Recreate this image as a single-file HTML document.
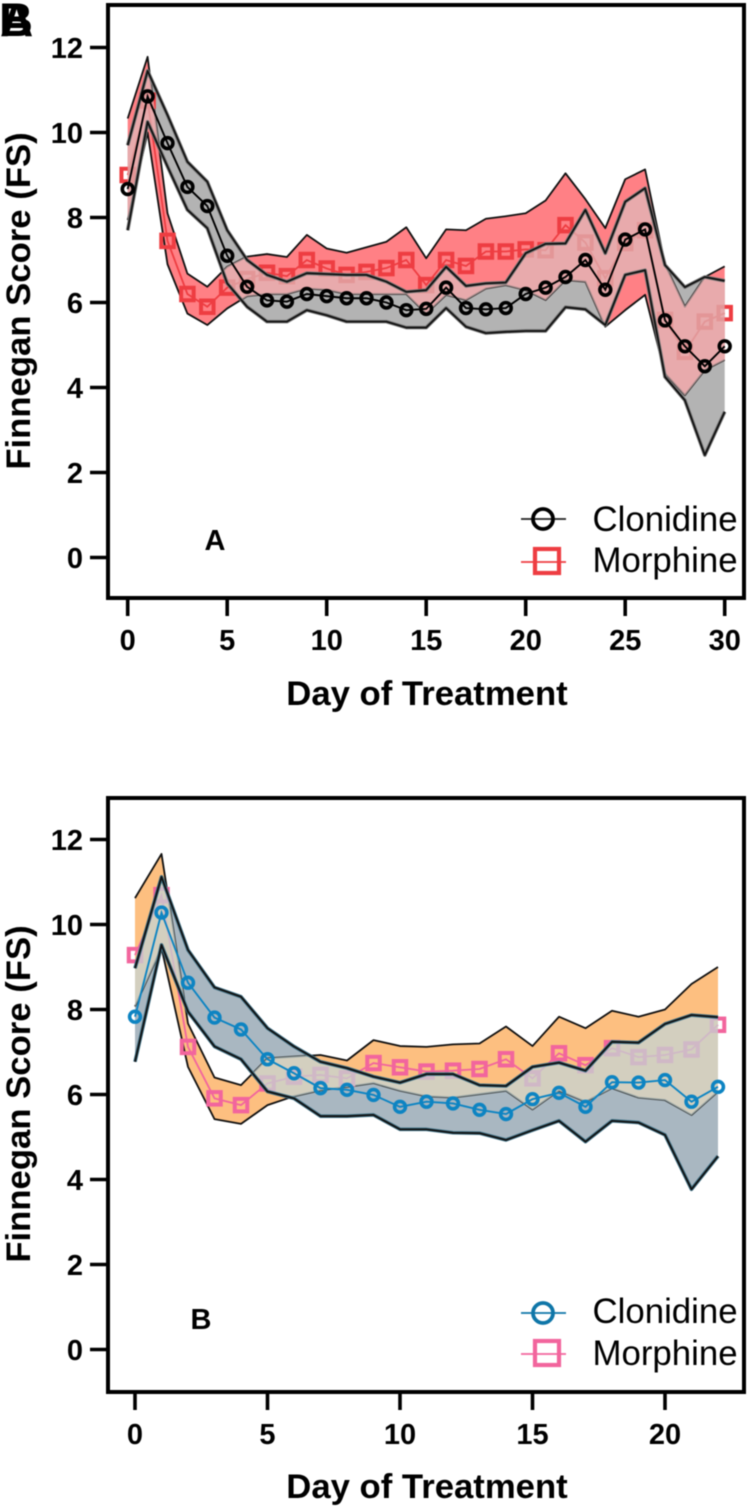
<!DOCTYPE html>
<html lang="en">
<head>
<meta charset="utf-8">
<title>Finnegan Score by Day of Treatment</title>
<style>
html,body{margin:0;padding:0;background:#fff;}
svg{display:block;filter:blur(0.4px);}
text{font-family:"Liberation Sans",sans-serif;fill:#000;}
.b{font-weight:bold;}
</style>
</head>
<body>
<svg id="figure" xmlns="http://www.w3.org/2000/svg" width="750" height="1508" viewBox="0 0 750 1508">
  <rect width="750" height="1508" fill="#fff"/>
  <g>
    <text class="b" x="-1" y="36" font-size="47">B</text>
    <text class="b" x="0" y="36" font-size="46">A</text>
  </g>

  <g id="panelA"></g>
  <g id="panelB"></g>

  <rect x="108" y="5" width="636" height="593" fill="none" stroke="#000" stroke-width="4"/>
  <rect x="108" y="798" width="636" height="594" fill="none" stroke="#000" stroke-width="4"/>

  <text class="b" font-size="34.7" text-anchor="middle" transform="translate(30 301) rotate(-90)">Finnegan Score (FS)</text>
  <text class="b" font-size="34.7" text-anchor="middle" x="427" y="705">Day of Treatment</text>
  <text class="b" font-size="29" text-anchor="middle" x="215" y="550">A</text>

  <text class="b" font-size="34.7" text-anchor="middle" transform="translate(30 1094) rotate(-90)">Finnegan Score (FS)</text>
  <text class="b" font-size="34.7" text-anchor="middle" x="427" y="1498">Day of Treatment</text>
  <text class="b" font-size="29" text-anchor="middle" x="201" y="1329">B</text>

  <g>
    <g>
      <line x1="521" x2="566" y1="519" y2="519" stroke="#222" stroke-width="1.8"/>
      <circle cx="543" cy="519" r="10" fill="none" stroke="#000" stroke-width="3.8"/>
      <text x="592.5" y="531" font-size="34.8">Clonidine</text>
    </g>
    <g>
      <line x1="521" x2="566" y1="562" y2="562" stroke="#ee3d42" stroke-width="1.8"/>
      <rect x="535" y="549" width="24" height="24" fill="none" stroke="#ee3d42" stroke-width="4.2"/>
      <text x="592.5" y="572" font-size="34.8">Morphine</text>
    </g>
  </g>
  <g>
    <g>
      <line x1="521" x2="566" y1="1313" y2="1313" stroke="#0f76a8" stroke-width="1.8"/>
      <circle cx="543" cy="1313" r="10" fill="none" stroke="#0f76a8" stroke-width="3.8"/>
      <text x="592.5" y="1323" font-size="34.8">Clonidine</text>
    </g>
    <g>
      <line x1="521" x2="566" y1="1354" y2="1354" stroke="#f2659d" stroke-width="1.8"/>
      <rect x="535" y="1341" width="24" height="24" fill="none" stroke="#f2659d" stroke-width="4.2"/>
      <text x="592.5" y="1365" font-size="34.8">Morphine</text>
    </g>
  </g>
</svg>

<script>
// ---------- shared axis labels ----------
const yTickLabels = [0, 2, 4, 6, 8, 10, 12];
const xTickLabelsA = [0, 5, 10, 15, 20, 25, 30];
const xTickLabelsB = [0, 5, 10, 15, 20];

// ---------- panel A data ----------
const clonidineMeanA = [8.67,10.85,9.75,8.72,8.27,7.1,6.37,6.05,6.02,6.2,6.15,6.1,6.1,6.0,5.82,5.85,6.35,5.87,5.84,5.87,6.2,6.35,6.6,7.0,6.3,7.48,7.72,5.58,4.97,4.5,4.97];
const clonidineUpperA = [9.7,11.45,10.41,9.31,8.84,7.7,7.0,6.65,6.49,6.69,6.67,6.65,6.65,6.49,6.25,6.29,6.84,6.39,6.45,6.47,7.16,7.38,7.39,8.18,7.16,8.37,8.69,6.88,6.36,6.6,6.51];
const clonidineLowerA = [7.7,10.25,9.2,8.18,7.75,6.45,5.9,5.55,5.55,5.82,5.7,5.55,5.55,5.55,5.41,5.41,5.87,5.43,5.28,5.31,5.33,5.33,5.89,5.84,5.47,6.65,6.76,4.25,3.7,2.41,3.43];
const morphineMeanA = [9.0,10.75,7.45,6.2,5.9,6.35,6.55,6.7,6.62,7.0,6.8,6.65,6.72,6.81,7.0,6.41,7.0,6.86,7.2,7.2,7.25,7.23,7.82,7.41,6.57,7.4,7.7,5.59,4.84,5.55,5.75];
const morphineUpperA = [10.33,11.78,8.1,6.68,6.37,6.84,7.08,7.14,7.07,7.59,7.27,7.17,7.3,7.43,7.77,7.04,7.72,7.7,7.97,8.03,8.1,8.4,9.04,8.43,7.75,8.9,9.13,6.9,5.9,6.6,6.85];
const morphineLowerA = [7.94,10.0,6.9,5.74,5.47,5.86,6.15,6.2,6.2,6.33,6.3,6.2,6.2,6.2,6.2,5.74,6.18,6.06,6.33,6.41,6.29,6.06,6.53,6.49,5.43,5.82,6.18,4.33,3.82,4.41,4.65];

// ---------- panel B data ----------
const clonidineMeanB = [7.83,10.28,8.63,7.81,7.53,6.83,6.5,6.15,6.11,5.99,5.71,5.83,5.79,5.64,5.54,5.89,6.04,5.71,6.29,6.28,6.34,5.83,6.18];
const clonidineUpperB = [8.97,11.12,9.4,8.52,8.3,7.56,7.13,6.77,6.62,6.42,6.28,6.48,6.48,6.22,6.2,6.65,6.75,6.56,7.24,7.22,7.66,7.87,7.82];
const clonidineLowerB = [6.77,9.52,7.95,7.13,6.83,6.07,5.91,5.49,5.49,5.52,5.18,5.18,5.1,5.09,4.93,5.16,5.38,4.89,5.38,5.34,5.05,3.77,4.55];
const morphineMeanB = [9.28,10.69,7.12,5.91,5.75,6.26,6.42,6.46,6.38,6.74,6.64,6.54,6.56,6.6,6.83,6.38,6.97,6.69,7.09,6.88,6.93,7.06,7.64];
const morphineUpperB = [10.62,11.66,7.67,6.4,6.22,6.85,6.89,6.93,6.8,7.28,7.14,7.12,7.18,7.2,7.6,7.14,7.83,7.56,7.97,7.83,8.0,8.6,9.0];
const morphineLowerB = [8.07,9.45,6.65,5.42,5.31,5.75,5.96,6.1,6.18,6.27,6.09,5.96,5.93,6.01,6.09,5.65,6.09,5.83,6.15,5.93,5.87,5.52,6.07];

const NS = 'http://www.w3.org/2000/svg';

function mk(tag, attrs, parent) {
  const el = document.createElementNS(NS, tag);
  for (const k in attrs) el.setAttribute(k, attrs[k]);
  parent.appendChild(el);
  return el;
}

function linePath(values, sx, sy) {
  return values.map((v, i) => (i ? 'L' : 'M') + sx(i).toFixed(2) + ' ' + sy(v).toFixed(2)).join('');
}

function bandPath(upper, lower, sx, sy) {
  let d = linePath(upper, sx, sy);
  for (let i = lower.length - 1; i >= 0; i--) d += 'L' + sx(i).toFixed(2) + ' ' + sy(lower[i]).toFixed(2);
  return d + 'Z';
}

function drawPanel(root, id, o) {
  const sx = d => o.x0 + o.xUnit * d;
  const sy = v => o.y0 - 42.5 * v;

  // axis ticks and labels
  yTickLabels.forEach(t => {
    const tick = mk('line', {x1: 90, x2: 108, y1: sy(t), y2: sy(t), stroke: '#000', 'stroke-width': 3.6}, root);
    
    
    const label = mk('text', {x: 83, y: sy(t) + 10.5, 'text-anchor': 'end', 'font-size': 29, class: 'b'}, root);
    
    
    label.textContent = t;
  });
  o.xTicks.forEach(t => {
    const tick = mk('line', {x1: sx(t), x2: sx(t), y1: o.bottom, y2: o.bottom + 18, stroke: '#000', 'stroke-width': 3.6}, root);
    
    
    const label = mk('text', {x: sx(t), y: o.bottom + 52, 'text-anchor': 'middle', 'font-size': 29, class: 'b'}, root);
    
    
    label.textContent = t;
  });

  const cBand = bandPath(o.cUpper, o.cLower, sx, sy);
  const mBand = bandPath(o.mUpper, o.mLower, sx, sy);

  const defs = mk('defs', {}, root);
  const clip = mk('clipPath', {id: 'clip-' + id}, defs);
  mk('path', {d: cBand}, clip);

  // clonidine band fill
  const cFill = mk('path', {d: cBand, fill: o.cFill}, root);
  
  

  // morphine band
  const mFill = mk('path', {d: mBand, fill: o.mFill}, root);
  
  

  const mEdges = mk('g', {fill: 'none', stroke: '#111', 'stroke-width': 1.8, 'stroke-linejoin': 'round'}, root);
  
  
  mk('path', {d: linePath(o.mUpper, sx, sy)}, mEdges);
  mk('path', {d: linePath(o.mLower, sx, sy)}, mEdges);

  // morphine series
  const mLine = mk('path', {d: linePath(o.mMean, sx, sy), fill: 'none', stroke: o.mColor, 'stroke-width': 1.8}, root);
  
  
  o.mMean.forEach((v, i) => {
    const s = 12.5;
    const sq = mk('rect', {x: sx(i) - s / 2, y: sy(v) - s / 2, width: s, height: s, fill: 'none', stroke: o.mColor, 'stroke-width': 4}, root);
    
    
  });

  // overlap veil: lightens everything where both bands coincide
  const veil = mk('g', {'clip-path': 'url(#clip-' + id + ')', opacity: o.veilAlpha}, root);
  
  
  mk('path', {d: mBand, fill: o.veil, stroke: o.veil, 'stroke-width': 0.8}, veil);

  // clonidine band edges
  const cEdges = mk('g', {fill: 'none', 'stroke-linejoin': 'round'}, root);
  
  
  [o.cUpper, o.cLower].forEach(arr => {
    mk('path', {d: linePath(arr, sx, sy), stroke: o.cHalo, 'stroke-width': 3.6}, cEdges);
    mk('path', {d: linePath(arr, sx, sy), stroke: '#111', 'stroke-width': 1.8}, cEdges);
  });

  // clonidine series
  const cLine = mk('path', {d: linePath(o.cMean, sx, sy), fill: 'none', stroke: o.cColor, 'stroke-width': 1.9}, root);
  
  
  o.cMean.forEach((v, i) => {
    const pt = mk('circle', {cx: sx(i), cy: sy(v), r: 5.4, fill: 'none', stroke: o.cColor, 'stroke-width': 3.6}, root);
    
    
  });
}

drawPanel(document.getElementById('panelA'), 'a', {
  x0: 127.7, xUnit: 19.9, y0: 557.5, bottom: 598, xTicks: xTickLabelsA,
  cMean: clonidineMeanA, cUpper: clonidineUpperA, cLower: clonidineLowerA,
  mMean: morphineMeanA, mUpper: morphineUpperA, mLower: morphineLowerA,
  cFill: '#b3b3b3', mFill: '#ff8085', cColor: '#000', mColor: '#ee3d42',
  cHalo: '#777', veil: '#debcbc', veilAlpha: 0.7
});

drawPanel(document.getElementById('panelB'), 'b', {
  x0: 135, xUnit: 26.5, y0: 1349.5, bottom: 1392, xTicks: xTickLabelsB,
  cMean: clonidineMeanB, cUpper: clonidineUpperB, cLower: clonidineLowerB,
  mMean: morphineMeanB, mUpper: morphineUpperB, mLower: morphineLowerB,
  cFill: '#a9b7c1', mFill: '#fdbf80', cColor: '#0d84c2', mColor: '#f2659d',
  cHalo: '#3f7186', veil: '#c4d5d4', veilAlpha: 0.75
});
</script>
</body>
</html>
